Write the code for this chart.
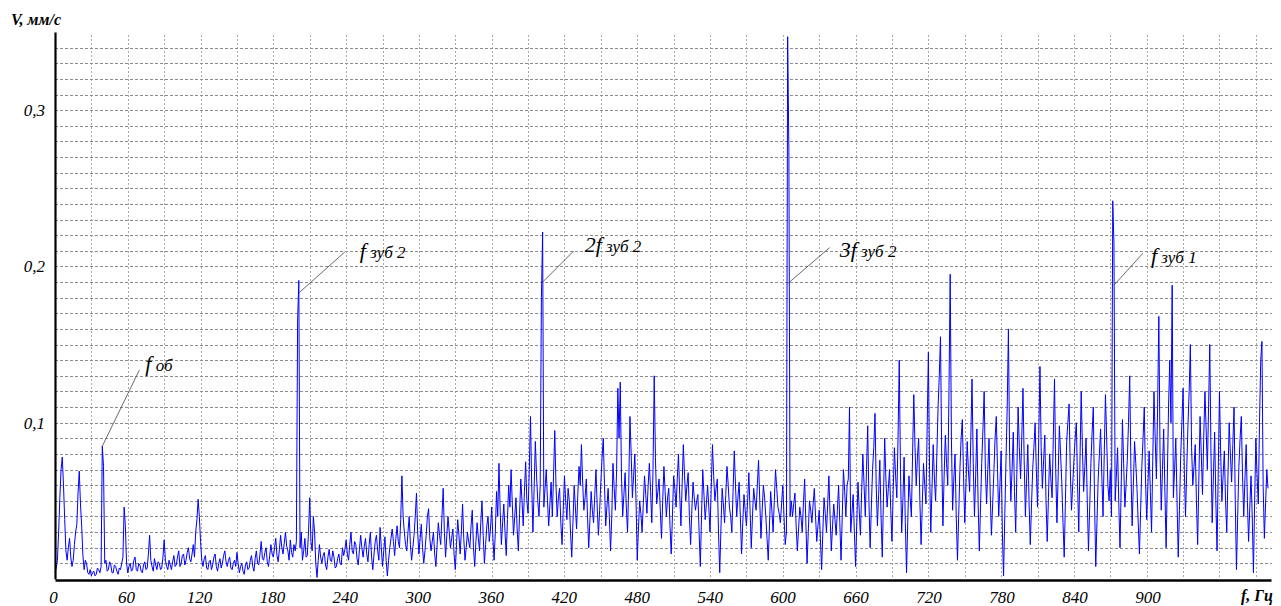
<!DOCTYPE html>
<html>
<head>
<meta charset="utf-8">
<script src="https://cdn.jsdelivr.net/npm/d3@7"></script>
<style>
	body { margin: 0; background: #fff; }
	text { font-family: "Liberation Serif", "Times New Roman", serif; font-style: italic; }
</style>
</head>
<body>
<div id="wrapper"></div>
<script>
// spectrum lines every 1 Hz, 0 ... 1000 Hz, V in mm/s (20 lines per row)
const freqStep = 1;
const velocity = [
	0.004, 0.007, 0.012, 0.030, 0.052, 0.070, 0.078, 0.060, 0.038, 0.018, 0.012, 0.020, 0.026, 0.014, 0.008, 0.012, 0.022, 0.030, 0.035, 0.055, // 0
	0.069, 0.048, 0.034, 0.015, 0.006, 0.012, 0.010, 0.004, 0.003, 0.006, 0.002, 0.004, 0.005, 0.002, 0.003, 0.007, 0.006, 0.004, 0.008, 0.085, // 20
	0.072, 0.010, 0.012, 0.005, 0.006, 0.011, 0.009, 0.004, 0.004, 0.009, 0.008, 0.005, 0.003, 0.007, 0.006, 0.010, 0.014, 0.046, 0.034, 0.010, // 40
	0.004, 0.008, 0.010, 0.005, 0.006, 0.012, 0.014, 0.006, 0.005, 0.010, 0.009, 0.005, 0.004, 0.009, 0.011, 0.006, 0.007, 0.016, 0.028, 0.012, // 60
	0.008, 0.005, 0.013, 0.009, 0.006, 0.011, 0.010, 0.006, 0.007, 0.014, 0.025, 0.012, 0.008, 0.006, 0.012, 0.009, 0.006, 0.011, 0.015, 0.008, // 80
	0.009, 0.014, 0.018, 0.008, 0.010, 0.015, 0.016, 0.009, 0.012, 0.017, 0.020, 0.013, 0.011, 0.016, 0.022, 0.014, 0.030, 0.038, 0.051, 0.040, // 100
	0.024, 0.012, 0.008, 0.013, 0.015, 0.007, 0.006, 0.011, 0.012, 0.006, 0.009, 0.014, 0.016, 0.008, 0.005, 0.010, 0.013, 0.007, 0.010, 0.015, // 120
	0.018, 0.011, 0.008, 0.012, 0.014, 0.007, 0.006, 0.010, 0.012, 0.008, 0.017, 0.010, 0.004, 0.008, 0.010, 0.005, 0.003, 0.009, 0.011, 0.006, // 140
	0.007, 0.012, 0.015, 0.008, 0.005, 0.013, 0.018, 0.010, 0.009, 0.016, 0.024, 0.013, 0.012, 0.017, 0.020, 0.011, 0.008, 0.015, 0.022, 0.016, // 160
	0.014, 0.020, 0.026, 0.015, 0.011, 0.019, 0.028, 0.020, 0.016, 0.023, 0.030, 0.021, 0.018, 0.012, 0.025, 0.017, 0.014, 0.022, 0.018, 0.024, // 180
	0.165, 0.191, 0.020, 0.030, 0.012, 0.018, 0.026, 0.014, 0.015, 0.030, 0.052, 0.024, 0.018, 0.040, 0.030, 0.010, 0.001, 0.012, 0.022, 0.014, // 200
	0.010, 0.015, 0.017, 0.009, 0.006, 0.014, 0.019, 0.012, 0.011, 0.018, 0.014, 0.007, 0.008, 0.013, 0.016, 0.010, 0.009, 0.020, 0.015, 0.019, // 220
	0.025, 0.016, 0.012, 0.022, 0.030, 0.018, 0.016, 0.024, 0.022, 0.013, 0.009, 0.019, 0.028, 0.020, 0.014, 0.021, 0.026, 0.016, 0.011, 0.022, // 240
	0.030, 0.014, 0.006, 0.016, 0.024, 0.028, 0.018, 0.012, 0.033, 0.020, 0.008, 0.018, 0.027, 0.012, 0.002, 0.012, 0.020, 0.026, 0.032, 0.024, // 260
	0.015, 0.026, 0.034, 0.024, 0.020, 0.038, 0.066, 0.040, 0.030, 0.022, 0.018, 0.030, 0.040, 0.022, 0.012, 0.020, 0.028, 0.040, 0.055, 0.030, // 280
	0.016, 0.026, 0.035, 0.020, 0.010, 0.018, 0.028, 0.040, 0.045, 0.026, 0.018, 0.024, 0.030, 0.016, 0.008, 0.022, 0.036, 0.028, 0.022, 0.040, // 300
	0.058, 0.030, 0.014, 0.028, 0.040, 0.030, 0.020, 0.026, 0.032, 0.016, 0.006, 0.022, 0.038, 0.028, 0.016, 0.030, 0.048, 0.026, 0.012, 0.020, // 320
	0.030, 0.024, 0.020, 0.034, 0.044, 0.020, 0.008, 0.024, 0.036, 0.026, 0.018, 0.036, 0.050, 0.028, 0.010, 0.022, 0.034, 0.040, 0.024, 0.032, // 340
	0.046, 0.026, 0.012, 0.030, 0.056, 0.040, 0.074, 0.044, 0.022, 0.036, 0.048, 0.030, 0.015, 0.038, 0.060, 0.046, 0.070, 0.048, 0.028, 0.040, // 360
	0.052, 0.032, 0.018, 0.042, 0.064, 0.050, 0.034, 0.056, 0.075, 0.050, 0.042, 0.070, 0.104, 0.060, 0.030, 0.058, 0.088, 0.066, 0.050, 0.040, // 380
	0.060, 0.180, 0.222, 0.046, 0.058, 0.070, 0.050, 0.034, 0.048, 0.062, 0.040, 0.066, 0.095, 0.060, 0.040, 0.052, 0.058, 0.036, 0.022, 0.044, // 400
	0.066, 0.050, 0.038, 0.058, 0.050, 0.030, 0.014, 0.036, 0.060, 0.046, 0.032, 0.054, 0.072, 0.060, 0.086, 0.062, 0.044, 0.052, 0.064, 0.040, // 420
	0.020, 0.038, 0.056, 0.044, 0.036, 0.054, 0.070, 0.046, 0.028, 0.044, 0.062, 0.078, 0.090, 0.060, 0.034, 0.046, 0.058, 0.040, 0.018, 0.040, // 440
	0.074, 0.058, 0.044, 0.070, 0.122, 0.090, 0.126, 0.066, 0.040, 0.054, 0.068, 0.046, 0.030, 0.060, 0.104, 0.080, 0.052, 0.066, 0.080, 0.050, // 460
	0.012, 0.032, 0.050, 0.042, 0.030, 0.048, 0.066, 0.054, 0.042, 0.060, 0.074, 0.056, 0.036, 0.070, 0.130, 0.078, 0.048, 0.056, 0.064, 0.044, // 480
	0.026, 0.050, 0.072, 0.056, 0.040, 0.052, 0.058, 0.034, 0.016, 0.040, 0.066, 0.058, 0.046, 0.064, 0.080, 0.054, 0.034, 0.060, 0.086, 0.066, // 500
	0.050, 0.060, 0.068, 0.040, 0.022, 0.044, 0.062, 0.052, 0.044, 0.050, 0.054, 0.030, 0.008, 0.040, 0.070, 0.054, 0.038, 0.048, 0.060, 0.046, // 520
	0.030, 0.058, 0.086, 0.066, 0.050, 0.058, 0.064, 0.030, 0.004, 0.032, 0.058, 0.048, 0.036, 0.054, 0.072, 0.060, 0.046, 0.040, 0.030, 0.056, // 540
	0.082, 0.060, 0.040, 0.052, 0.062, 0.040, 0.016, 0.036, 0.054, 0.044, 0.034, 0.050, 0.068, 0.044, 0.020, 0.040, 0.058, 0.050, 0.044, 0.060, // 560
	0.076, 0.050, 0.026, 0.044, 0.060, 0.052, 0.040, 0.026, 0.012, 0.034, 0.056, 0.044, 0.030, 0.050, 0.070, 0.058, 0.046, 0.042, 0.036, 0.048, // 580
	0.060, 0.040, 0.022, 0.030, 0.347, 0.275, 0.040, 0.050, 0.040, 0.048, 0.055, 0.034, 0.018, 0.032, 0.046, 0.040, 0.030, 0.048, 0.064, 0.036, // 600
	0.010, 0.030, 0.050, 0.044, 0.036, 0.048, 0.058, 0.040, 0.024, 0.034, 0.044, 0.026, 0.006, 0.030, 0.052, 0.042, 0.030, 0.048, 0.066, 0.040, // 620
	0.018, 0.034, 0.048, 0.038, 0.028, 0.044, 0.060, 0.036, 0.012, 0.040, 0.070, 0.056, 0.040, 0.060, 0.064, 0.110, 0.030, 0.042, 0.054, 0.030, // 640
	0.008, 0.036, 0.062, 0.044, 0.028, 0.056, 0.080, 0.060, 0.040, 0.070, 0.098, 0.050, 0.020, 0.046, 0.070, 0.084, 0.106, 0.060, 0.034, 0.054, // 660
	0.076, 0.040, 0.014, 0.052, 0.090, 0.064, 0.046, 0.058, 0.070, 0.044, 0.024, 0.056, 0.084, 0.066, 0.052, 0.090, 0.140, 0.070, 0.030, 0.050, // 680
	0.078, 0.036, 0.004, 0.036, 0.066, 0.052, 0.040, 0.080, 0.118, 0.084, 0.060, 0.078, 0.090, 0.050, 0.022, 0.048, 0.074, 0.060, 0.048, 0.096, // 700
	0.145, 0.070, 0.030, 0.058, 0.086, 0.064, 0.050, 0.080, 0.110, 0.130, 0.155, 0.080, 0.034, 0.066, 0.092, 0.074, 0.060, 0.120, 0.195, 0.090, // 720
	0.044, 0.064, 0.080, 0.040, 0.012, 0.040, 0.070, 0.090, 0.102, 0.066, 0.036, 0.060, 0.088, 0.070, 0.056, 0.090, 0.128, 0.074, 0.040, 0.066, // 740
	0.096, 0.050, 0.018, 0.046, 0.074, 0.096, 0.120, 0.070, 0.048, 0.070, 0.090, 0.054, 0.028, 0.048, 0.068, 0.090, 0.104, 0.070, 0.040, 0.060, // 760
	0.082, 0.030, 0.002, 0.040, 0.076, 0.110, 0.160, 0.080, 0.050, 0.070, 0.094, 0.056, 0.030, 0.070, 0.110, 0.084, 0.064, 0.090, 0.122, 0.076, // 780
	0.040, 0.064, 0.086, 0.050, 0.022, 0.046, 0.070, 0.084, 0.100, 0.070, 0.046, 0.090, 0.136, 0.084, 0.058, 0.076, 0.092, 0.050, 0.024, 0.052, // 800
	0.080, 0.064, 0.052, 0.090, 0.128, 0.070, 0.036, 0.066, 0.098, 0.080, 0.062, 0.036, 0.014, 0.050, 0.088, 0.100, 0.112, 0.070, 0.044, 0.060, // 820
	0.076, 0.090, 0.100, 0.060, 0.030, 0.076, 0.120, 0.084, 0.056, 0.072, 0.090, 0.050, 0.018, 0.046, 0.074, 0.094, 0.110, 0.050, 0.008, 0.036, // 840
	0.064, 0.080, 0.096, 0.066, 0.040, 0.080, 0.118, 0.090, 0.060, 0.050, 0.070, 0.040, 0.242, 0.215, 0.050, 0.066, 0.084, 0.048, 0.020, 0.060, // 860
	0.102, 0.074, 0.046, 0.060, 0.076, 0.100, 0.130, 0.070, 0.034, 0.060, 0.088, 0.074, 0.058, 0.036, 0.016, 0.044, 0.072, 0.090, 0.110, 0.064, // 880
	0.038, 0.060, 0.082, 0.056, 0.030, 0.076, 0.120, 0.090, 0.064, 0.110, 0.168, 0.080, 0.044, 0.070, 0.096, 0.056, 0.020, 0.064, 0.110, 0.140, // 900
	0.100, 0.188, 0.052, 0.070, 0.090, 0.050, 0.014, 0.044, 0.078, 0.100, 0.122, 0.070, 0.040, 0.070, 0.098, 0.120, 0.150, 0.084, 0.060, 0.072, // 920
	0.086, 0.050, 0.022, 0.064, 0.104, 0.080, 0.054, 0.090, 0.120, 0.096, 0.070, 0.110, 0.150, 0.080, 0.036, 0.066, 0.094, 0.050, 0.018, 0.070, // 940
	0.120, 0.080, 0.050, 0.066, 0.082, 0.050, 0.030, 0.066, 0.100, 0.080, 0.062, 0.086, 0.110, 0.050, 0.006, 0.040, 0.072, 0.090, 0.104, 0.066, // 960
	0.040, 0.064, 0.086, 0.050, 0.024, 0.046, 0.066, 0.040, 0.004, 0.050, 0.090, 0.066, 0.048, 0.100, 0.140, 0.152, 0.060, 0.026, 0.048, 0.070, // 980
	0.058 // 1000
];

const xTicks = [0, 60, 120, 180, 240, 300, 360, 420, 480, 540, 600, 660, 720, 780, 840, 900];
const yTicks = [0.1, 0.2, 0.3];

// peak labels: main symbol, subscript, frequency (Hz), where the leader touches the peak (mm/s)
const peakMain = ["f", "f", "2f", "3f", "f"];
const peakSub = [" об", " зуб 2", " зуб 2", " зуб 2", " зуб 1"];
const peakFreq = [39, 201, 402, 604, 873];
const peakAnchor = [0.085, 0.183, 0.19, 0.189, 0.188];

// leader end offsets and text offsets (px)
const leaderOffset = [[37, -76], [46, -41], [31, -31], [42, -36], [29, -32]];
const textOffset = [[6, 1], [15, 6], [11, 1], [10, 9], [8, 10]];

const drawChart = () => {
	const dimensions = {
		width: 1281,
		height: 606,
		left: 55,
		right: 1268,
		top: 32,
		bottom: 579,
	};

	const svg = d3
		.select("#wrapper")
		.append("svg")
		.attr("width", dimensions.width)
		.attr("height", dimensions.height);

	const xScale = d3
		.scaleLinear()
		.domain([0, 1000])
		.range([dimensions.left, dimensions.right]);

	const yScale = d3
		.scaleLinear()
		.domain([0, 0.35])
		.range([dimensions.bottom, dimensions.top]);

	// grid
	const grid = svg.append("g").attr("class", "grid");
	grid
		.selectAll(".v")
		.data(d3.range(30, 1000, 30))
		.join("line")
		.attr("x1", (d) => Math.round(xScale(d)) + 0.5)
		.attr("x2", (d) => Math.round(xScale(d)) + 0.5)
		.attr("y1", 35)
		.attr("y2", dimensions.bottom)
		.attr("stroke", "#a8a8a8")
		.attr("stroke-dasharray", "2,2");

	grid
		.selectAll(".h")
		.data(d3.range(1, 35).map((k) => k / 100))
		.join("line")
		.attr("x1", dimensions.left)
		.attr("x2", 1272)
		.attr("y1", (d) => Math.round(yScale(d)) + 0.5)
		.attr("y2", (d) => Math.round(yScale(d)) + 0.5)
		.attr("stroke", "#8c8c8c")
		.attr("stroke-dasharray", "3,2");

	// spectrum
	const lineGenerator = d3
		.line()
		.x((d, i) => xScale(i * freqStep))
		.y((d) => yScale(d));

	svg
		.append("path")
		.attr("d", lineGenerator(velocity))
		.attr("fill", "none")
		.attr("stroke", "#0000ff")
		.attr("stroke-width", 1);

	// axes
	const yAxis = svg
		.append("g")
		.attr("transform", `translate(${dimensions.left}, 0)`)
		.call(
			d3
				.axisLeft(yScale)
				.tickValues(yTicks)
				.tickSize(0)
				.tickPadding(10)
				.tickFormat((d) => d3.format(".1f")(d).replace(".", ","))
		);
	yAxis.select(".domain").attr("stroke", "#000").attr("stroke-width", 2.2);
	yAxis.selectAll("text").attr("font-size", 17).attr("font-family", null);

	const xAxis = svg
		.append("g")
		.attr("transform", `translate(0, ${dimensions.bottom + 1})`)
		.call(
			d3
				.axisBottom(xScale.copy().range([dimensions.left, dimensions.right + 3]))
				.tickValues(xTicks)
				.tickSize(0)
				.tickPadding(11)
		);
	xAxis.select(".domain").attr("stroke", "#000").attr("stroke-width", 2.5);
	xAxis
		.selectAll("text")
		.attr("font-size", 17)
		.attr("font-family", null)
		.attr("dx", -2);

	svg
		.append("text")
		.attr("x", 11)
		.attr("y", 25)
		.attr("font-size", 16)
		.attr("font-weight", "bold")
		.text("V, мм/с");

	svg
		.append("text")
		.attr("x", 1241)
		.attr("y", 601)
		.attr("font-size", 16)
		.attr("font-weight", "bold")
		.text("f, Гц");

	// peak labels
	peakFreq.forEach((f, i) => {
		const x0 = xScale(f);
		const y0 = yScale(peakAnchor[i]);
		const x1 = x0 + leaderOffset[i][0];
		const y1 = y0 + leaderOffset[i][1];
		svg
			.append("line")
			.attr("x1", x0)
			.attr("y1", y0)
			.attr("x2", x1)
			.attr("y2", y1)
			.attr("stroke", "#444")
			.attr("stroke-width", 0.8);

		const label = svg
			.append("text")
			.attr("x", x1 + textOffset[i][0])
			.attr("y", y1 + textOffset[i][1]);
		label.append("tspan").attr("font-size", 22).text(peakMain[i]);
		label.append("tspan").attr("font-size", 17).text(peakSub[i]);
	});
};

drawChart();
</script>
</body>
</html>
